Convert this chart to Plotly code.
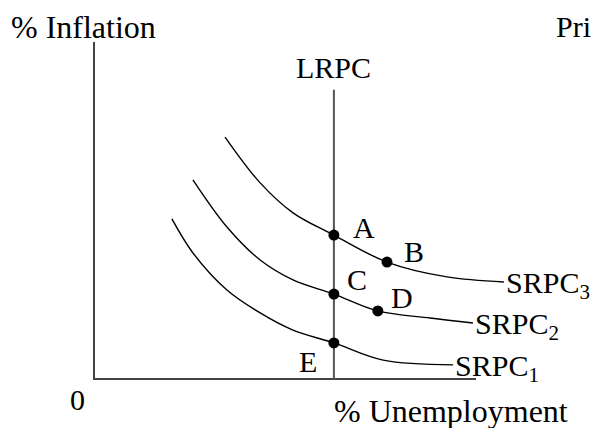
import plotly.graph_objects as go

# Data (conceptual units: axes run 0..10)
srpc3_x = [3.43, 4.35, 5.21, 6.28, 7.67, 9.24, 10.73]
srpc3_y = [7.18, 5.82, 4.93, 4.27, 3.47, 3.03, 2.88]
srpc2_x = [2.59, 3.48, 4.35, 5.21, 6.28, 7.43, 8.80, 9.92]
srpc2_y = [5.91, 4.51, 3.53, 2.94, 2.52, 2.02, 1.81, 1.66]
srpc1_x = [2.04, 2.59, 3.48, 4.35, 5.21, 6.28, 7.57, 9.40]
srpc1_y = [4.75, 3.74, 2.64, 1.96, 1.45, 1.07, 0.56, 0.42]
lrpc_x = 6.28
lrpc_top = 8.58
axis_len_x = 10
axis_len_y = 10
point_names = ["A", "B", "C", "D", "E"]
point_x = [6.28, 7.67, 6.28, 7.43, 6.28]
point_y = [4.27, 3.47, 2.52, 2.02, 1.07]
curve_names = ["SRPC<sub>3</sub>", "SRPC<sub>2</sub>", "SRPC<sub>1</sub>"]

FONT = "Liberation Serif, Times New Roman, serif"
FS = 30
FS_TITLE = 32

fig = go.Figure()

# axes
fig.add_trace(go.Scatter(x=[0, 0, axis_len_x], y=[axis_len_y, 0, 0], mode="lines",
                         line=dict(color="#444444", width=2), hoverinfo="skip"))
# LRPC
fig.add_trace(go.Scatter(x=[lrpc_x, lrpc_x], y=[0, lrpc_top], mode="lines",
                         line=dict(color="#555555", width=2), hoverinfo="skip"))
# SRPC curves
for xs, ys in [(srpc3_x, srpc3_y), (srpc2_x, srpc2_y), (srpc1_x, srpc1_y)]:
    fig.add_trace(go.Scatter(x=xs, y=ys, mode="lines",
                             line=dict(color="black", width=1.4, shape="spline", smoothing=1.0),
                             hoverinfo="skip"))
# points
fig.add_trace(go.Scatter(x=point_x, y=point_y, mode="markers",
                         marker=dict(color="black", size=11), hoverinfo="skip"))

ann = []
offsets = {"A": (30, 8), "B": (27, 11), "C": (23, 15), "D": (24, 13), "E": (-26, -19)}
for n, x, y in zip(point_names, point_x, point_y):
    dx, dy = offsets[n]
    ann.append(dict(x=x, y=y, text=n, showarrow=False, xshift=dx, yshift=dy,
                    xanchor="center", yanchor="middle", font=dict(size=FS)))
for name, xs, ys in zip(curve_names, [srpc3_x, srpc2_x, srpc1_x], [srpc3_y, srpc2_y, srpc1_y]):
    ann.append(dict(x=xs[-1], y=ys[-1], text=name, showarrow=False, xshift=0, yshift=-3,
                    xanchor="left", yanchor="middle", font=dict(size=FS)))
ann.append(dict(x=lrpc_x, y=lrpc_top, text="LRPC", showarrow=False, xanchor="center",
                yanchor="bottom", yshift=4, font=dict(size=FS)))

W, H = 592, 428
def paper(px, py):
    return px / W, 1 - py / H
for text, px, py, xa, fs in [("% Inflation", 9, 27, "left", FS_TITLE),
                             ("Pri", 554, 27, "left", FS),
                             ("0", 78, 399, "center", FS),
                             ("% Unemployment", 332, 411, "left", FS_TITLE)]:
    x, y = paper(px, py)
    ann.append(dict(x=x, y=y, xref="paper", yref="paper", text=text, showarrow=False,
                    xanchor=xa, yanchor="middle", font=dict(size=fs)))

for a in ann:
    a["font"].update(family=FONT, color="black")

fig.update_layout(
    width=W, height=H, margin=dict(l=0, r=0, t=0, b=0),
    paper_bgcolor="white", plot_bgcolor="white", showlegend=False,
    xaxis=dict(range=[-94 / 38.2, 498 / 38.2], visible=False, fixedrange=True),
    yaxis=dict(range=[-49 / 33.7, 379 / 33.7], visible=False, fixedrange=True),
    annotations=ann,
)
fig.write_html("out.html", config={"displayModeBar": False},
               post_script="document.body.style.margin='0';")
